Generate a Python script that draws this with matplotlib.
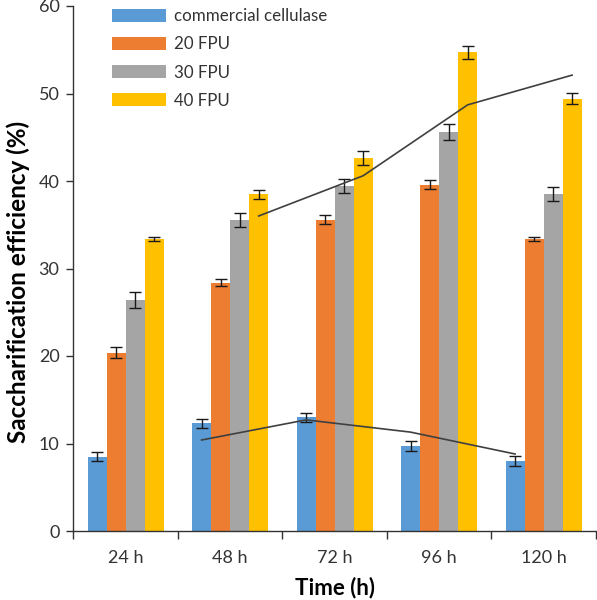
import matplotlib
matplotlib.use("Agg")
import matplotlib.pyplot as plt
import numpy as np

plt.rcParams['font.family'] = ['Lato', 'DejaVu Sans']

categories = ["24 h", "48 h", "72 h", "96 h", "120 h"]
series_names = ["commercial cellulase", "20 FPU", "30 FPU", "40 FPU"]
commercial = [8.5, 12.3, 13.0, 9.7, 8.0]
fpu20 = [20.4, 28.4, 35.6, 39.6, 33.4]
fpu30 = [26.4, 35.5, 39.4, 45.6, 38.5]
fpu40 = [33.4, 38.5, 42.6, 54.7, 49.4]
err_commercial = [0.55, 0.5, 0.5, 0.55, 0.55]
err_20 = [0.6, 0.35, 0.5, 0.5, 0.25]
err_30 = [0.9, 0.8, 0.8, 0.9, 0.8]
err_40 = [0.2, 0.5, 0.8, 0.7, 0.65]
# trendlines (2-period moving average)
trend_commercial = [10.4, 12.7, 11.3, 8.8]
trend_40 = [36.0, 40.6, 48.7, 52.1]

colors = ["#5B9BD5", "#ED7D31", "#A5A5A5", "#FFC000"]

fig = plt.figure(figsize=(5.97, 6.00), dpi=100)
ax = fig.add_axes([0.123, 0.115, 0.875, 0.875])

x = np.arange(len(categories))
w = 0.182
vals = [commercial, fpu20, fpu30, fpu40]
errs = [err_commercial, err_20, err_30, err_40]
for i, (v, e, c, n) in enumerate(zip(vals, errs, colors, series_names)):
    pos = x + (i - 1.5) * w
    ax.bar(pos, v, width=w, color=c, label=n, zorder=2)
    ax.errorbar(pos, v, yerr=e, fmt='none', ecolor='#1a1a1a', elinewidth=1.0,
                capsize=4, capthick=1.0, zorder=3)

ax.plot(x[1:] - 1.5 * w, trend_commercial, color='#404040', lw=1.2, zorder=4)
ax.plot(x[1:] + 1.5 * w, trend_40, color='#404040', lw=1.2, zorder=4)

ax.set_xlim(-0.5, len(categories) - 0.5)
ax.set_ylim(0, 60)
ax.set_yticks(range(0, 61, 10))
ax.set_xticks(x)
ax.set_xticklabels(categories)
ax.set_xticks(np.arange(-0.5, len(categories), 1.0), minor=True)
ax.tick_params(axis='x', which='major', length=0, labelsize=13, pad=14, colors='#333333')
ax.tick_params(axis='x', which='minor', length=6, width=1.0, color='#333333')
ax.tick_params(axis='y', length=5, width=1.0, labelsize=13, pad=5, color='#333333', labelcolor='#333333')
for s in ['top', 'right']:
    ax.spines[s].set_visible(False)
for s in ['left', 'bottom']:
    ax.spines[s].set_linewidth(1.0)
    ax.spines[s].set_color('#333333')

ax.set_xlabel("Time (h)", fontsize=16, fontweight='bold', labelpad=7)
ax.set_ylabel("Saccharification efficiency (%)", fontsize=17.5, fontweight='bold')
ax.yaxis.set_label_coords(-0.083, 0.474)

leg = ax.legend(loc='upper left', bbox_to_anchor=(0.045, 1.025), frameon=False,
                fontsize=12.2, handlelength=3.2, handleheight=0.8,
                labelspacing=0.72, handletextpad=0.45)
for t in leg.get_texts():
    t.set_color('#333333')

fig.savefig("out.png", dpi=100)
